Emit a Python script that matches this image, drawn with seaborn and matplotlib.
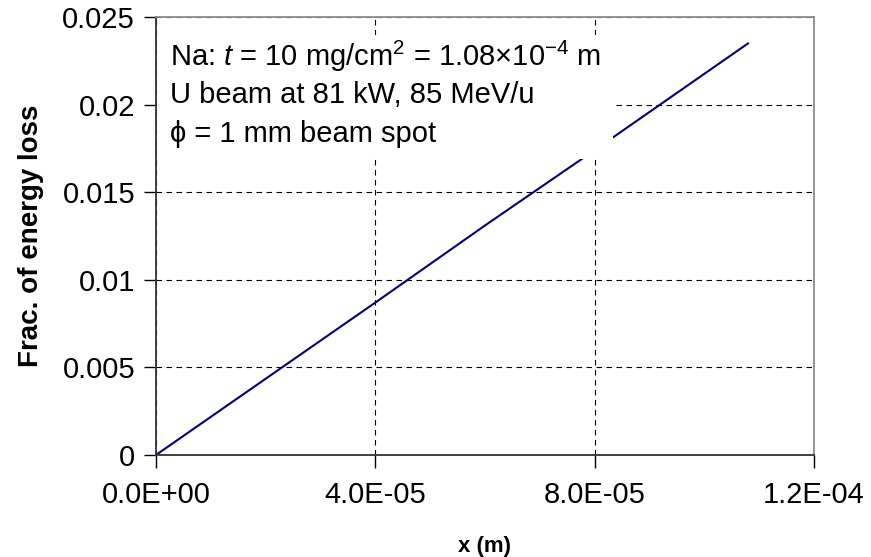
import matplotlib
matplotlib.use("Agg")
import matplotlib.pyplot as plt
import seaborn as sns
import pandas as pd
from matplotlib.patches import Rectangle

# values
x_m = [0.0, 2.0e-5, 4.0e-5, 6.0e-5, 8.0e-5, 1.08e-4]
frac_loss = [0.0, 0.00435, 0.0087, 0.0131, 0.0174, 0.0235]

x_ticks = [0.0, 4.0e-5, 8.0e-5, 1.2e-4]
x_tick_labels = ["0.0E+00", "4.0E-05", "8.0E-05", "1.2E-04"]
y_ticks = [0.0, 0.005, 0.01, 0.015, 0.02, 0.025]
y_tick_labels = ["0", "0.005", "0.01", "0.015", "0.02", "0.025"]

note_lines = [
    "Na: $t$ = 10 mg/cm$^{2}$ = 1.08\u00d710$^{-4}$ m",
    "U beam at 81 kW, 85 MeV/u",
    "\u03d5 = 1 mm beam spot",
]

df = pd.DataFrame({"x": x_m, "frac": frac_loss})

sns.set_theme(style="white")
plt.rcParams["font.family"] = ["Liberation Sans", "DejaVu Sans"]
plt.rcParams["text.color"] = "black"
plt.rcParams["axes.labelcolor"] = "black"
plt.rcParams["mathtext.fontset"] = "custom"
plt.rcParams["mathtext.rm"] = "Liberation Sans"
plt.rcParams["mathtext.it"] = "Liberation Sans:italic"

fig, ax = plt.subplots(figsize=(8.71, 5.57), dpi=100)
fig.subplots_adjust(left=0.179, right=0.9346, top=0.9695, bottom=0.1831)

sns.lineplot(data=df, x="x", y="frac", color="#000080", linewidth=1.5, ax=ax, zorder=2)

ax.set_xlim(0, 1.2e-4)
ax.set_ylim(0, 0.025)
ax.set_xticks(x_ticks)
ax.set_xticklabels(x_tick_labels)
ax.set_yticks(y_ticks)
ax.set_yticklabels(y_tick_labels)
ax.tick_params(axis="both", direction="out", length=9, width=1, color="black",
               labelsize=21, labelcolor="black", bottom=True, left=True)
ax.tick_params(axis="x", pad=10)
ax.tick_params(axis="y", pad=6)

ax.grid(True, color="black", linestyle=(0, (5, 4)), linewidth=0.8)
ax.set_axisbelow(True)

for side in ["left", "bottom"]:
    ax.spines[side].set_color("#333333")
    ax.spines[side].set_linewidth(1.3)
for side in ["top", "right"]:
    ax.spines[side].set_color("#8c8c8c")
    ax.spines[side].set_linewidth(1.3)

ax.set_xlabel("x (m)", fontsize=16, fontweight="bold", labelpad=19)
ax.set_ylabel("Frac. of energy loss", fontsize=20, fontweight="bold", labelpad=13)

# white note box over the upper left of the plot
ax.add_patch(Rectangle((0.002, 0.675), 0.693, 0.283, transform=ax.transAxes,
                       facecolor="white", edgecolor="none", zorder=3))
for i, line in enumerate(note_lines):
    ax.text(0.021, 0.911 - i * 0.089, line, transform=ax.transAxes, fontsize=21,
            va="center", ha="left", zorder=4)

fig.savefig("out.png", dpi=100)
